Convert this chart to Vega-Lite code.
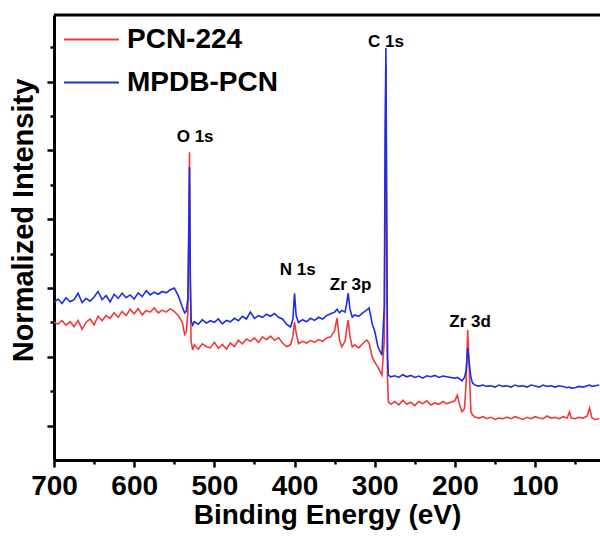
{
  "$schema": "https://vega.github.io/schema/vega-lite/v6.json",
  "width": 546,
  "height": 445,
  "autosize": {"type": "none"},
  "padding": {"left": 54, "top": 15, "right": 0, "bottom": 78},
  "background": "white",
  "config": {
    "view": {"stroke": null},
    "font": "Liberation Sans",
    "axis": {"grid": false, "domainColor": "black", "domainWidth": 3, "tickColor": "black", "tickWidth": 2.5, "labelColor": "black", "titleColor": "black", "labelFont": "Liberation Sans", "titleFont": "Liberation Sans"}
  },
  "datasets": {
    "spec": [
      {"e":700,"PCN-224":4.01,"MPDB-PCN":4.59},{"e":695,"PCN-224":3.95,"MPDB-PCN":4.68},{"e":690,"PCN-224":4.05,"MPDB-PCN":4.55},{"e":685,"PCN-224":3.92,"MPDB-PCN":4.72},{"e":680,"PCN-224":4.02,"MPDB-PCN":4.60},{"e":675,"PCN-224":3.88,"MPDB-PCN":4.66},{"e":670,"PCN-224":4.06,"MPDB-PCN":4.85},{"e":665,"PCN-224":3.80,"MPDB-PCN":4.58},{"e":660,"PCN-224":4.00,"MPDB-PCN":4.70},{"e":655,"PCN-224":4.10,"MPDB-PCN":4.62},{"e":650,"PCN-224":3.93,"MPDB-PCN":4.74},{"e":645,"PCN-224":4.18,"MPDB-PCN":4.90},{"e":640,"PCN-224":4.05,"MPDB-PCN":4.66},{"e":635,"PCN-224":4.20,"MPDB-PCN":4.78},{"e":630,"PCN-224":4.12,"MPDB-PCN":4.60},{"e":625,"PCN-224":4.28,"MPDB-PCN":4.82},{"e":620,"PCN-224":4.15,"MPDB-PCN":4.70},{"e":615,"PCN-224":4.32,"MPDB-PCN":4.85},{"e":610,"PCN-224":4.20,"MPDB-PCN":4.72},{"e":605,"PCN-224":4.38,"MPDB-PCN":4.80},{"e":600,"PCN-224":4.25,"MPDB-PCN":4.68},{"e":595,"PCN-224":4.40,"MPDB-PCN":4.86},{"e":590,"PCN-224":4.22,"MPDB-PCN":4.75},{"e":585,"PCN-224":4.35,"MPDB-PCN":4.92},{"e":580,"PCN-224":4.30,"MPDB-PCN":4.80},{"e":575,"PCN-224":4.42,"MPDB-PCN":4.88},{"e":570,"PCN-224":4.28,"MPDB-PCN":4.82},{"e":565,"PCN-224":4.36,"MPDB-PCN":4.90},{"e":560,"PCN-224":4.30,"MPDB-PCN":4.86},{"e":555,"PCN-224":4.40,"MPDB-PCN":4.95},{"e":550,"PCN-224":4.32,"MPDB-PCN":5.00},{"e":545,"PCN-224":4.20,"MPDB-PCN":4.78},{"e":540,"PCN-224":4.00,"MPDB-PCN":4.45},{"e":537,"PCN-224":3.65,"MPDB-PCN":4.28},{"e":535,"PCN-224":3.72,"MPDB-PCN":4.32},{"e":533,"PCN-224":4.30,"MPDB-PCN":4.70},{"e":532,"PCN-224":6.6,"MPDB-PCN":6.4},{"e":531,"PCN-224":8.95,"MPDB-PCN":8.52},{"e":530,"PCN-224":5.2,"MPDB-PCN":5.3},{"e":529,"PCN-224":3.45,"MPDB-PCN":4.05},{"e":527,"PCN-224":3.20,"MPDB-PCN":3.92},{"e":525,"PCN-224":3.35,"MPDB-PCN":4.02},{"e":520,"PCN-224":3.22,"MPDB-PCN":3.95},{"e":515,"PCN-224":3.38,"MPDB-PCN":4.08},{"e":510,"PCN-224":3.30,"MPDB-PCN":3.98},{"e":505,"PCN-224":3.26,"MPDB-PCN":4.05},{"e":500,"PCN-224":3.42,"MPDB-PCN":4.00},{"e":495,"PCN-224":3.25,"MPDB-PCN":4.10},{"e":490,"PCN-224":3.36,"MPDB-PCN":3.96},{"e":485,"PCN-224":3.22,"MPDB-PCN":4.06},{"e":480,"PCN-224":3.40,"MPDB-PCN":4.02},{"e":475,"PCN-224":3.30,"MPDB-PCN":4.12},{"e":470,"PCN-224":3.48,"MPDB-PCN":4.05},{"e":465,"PCN-224":3.38,"MPDB-PCN":4.18},{"e":460,"PCN-224":3.52,"MPDB-PCN":4.10},{"e":455,"PCN-224":3.45,"MPDB-PCN":4.30},{"e":450,"PCN-224":3.55,"MPDB-PCN":4.12},{"e":445,"PCN-224":3.42,"MPDB-PCN":4.20},{"e":440,"PCN-224":3.58,"MPDB-PCN":4.15},{"e":435,"PCN-224":3.50,"MPDB-PCN":4.24},{"e":430,"PCN-224":3.60,"MPDB-PCN":4.18},{"e":425,"PCN-224":3.48,"MPDB-PCN":4.26},{"e":420,"PCN-224":3.56,"MPDB-PCN":4.15},{"e":415,"PCN-224":3.40,"MPDB-PCN":4.10},{"e":410,"PCN-224":3.30,"MPDB-PCN":3.95},{"e":405,"PCN-224":3.35,"MPDB-PCN":3.87},{"e":402,"PCN-224":3.60,"MPDB-PCN":4.10},{"e":400,"PCN-224":4.01,"MPDB-PCN":4.85},{"e":398,"PCN-224":3.70,"MPDB-PCN":4.20},{"e":395,"PCN-224":3.38,"MPDB-PCN":4.00},{"e":390,"PCN-224":3.45,"MPDB-PCN":4.08},{"e":385,"PCN-224":3.40,"MPDB-PCN":4.02},{"e":380,"PCN-224":3.48,"MPDB-PCN":4.12},{"e":375,"PCN-224":3.42,"MPDB-PCN":4.06},{"e":370,"PCN-224":3.50,"MPDB-PCN":4.15},{"e":365,"PCN-224":3.45,"MPDB-PCN":4.10},{"e":360,"PCN-224":3.55,"MPDB-PCN":4.20},{"e":355,"PCN-224":3.58,"MPDB-PCN":4.25},{"e":350,"PCN-224":3.75,"MPDB-PCN":4.30},{"e":347,"PCN-224":4.13,"MPDB-PCN":4.38},{"e":344,"PCN-224":3.50,"MPDB-PCN":4.28},{"e":341,"PCN-224":3.29,"MPDB-PCN":4.35},{"e":337,"PCN-224":3.45,"MPDB-PCN":4.30},{"e":335,"PCN-224":3.80,"MPDB-PCN":4.55},{"e":333,"PCN-224":4.07,"MPDB-PCN":4.85},{"e":331,"PCN-224":3.60,"MPDB-PCN":4.40},{"e":328,"PCN-224":3.29,"MPDB-PCN":4.15},{"e":325,"PCN-224":3.35,"MPDB-PCN":4.22},{"e":320,"PCN-224":3.26,"MPDB-PCN":4.18},{"e":315,"PCN-224":3.38,"MPDB-PCN":4.28},{"e":310,"PCN-224":3.49,"MPDB-PCN":4.36},{"e":307,"PCN-224":3.40,"MPDB-PCN":4.42},{"e":303,"PCN-224":2.99,"MPDB-PCN":3.95},{"e":300,"PCN-224":2.85,"MPDB-PCN":3.75},{"e":296,"PCN-224":2.70,"MPDB-PCN":3.29},{"e":291,"PCN-224":2.47,"MPDB-PCN":3.05},{"e":288,"PCN-224":3.5,"MPDB-PCN":4.5},{"e":287,"PCN-224":8.0,"MPDB-PCN":9.5},{"e":286,"PCN-224":11.5,"MPDB-PCN":11.98},{"e":285,"PCN-224":6.0,"MPDB-PCN":7.0},{"e":284,"PCN-224":2.4,"MPDB-PCN":3.0},{"e":283,"PCN-224":1.69,"MPDB-PCN":2.47},{"e":280,"PCN-224":1.62,"MPDB-PCN":2.42},{"e":275,"PCN-224":1.70,"MPDB-PCN":2.45},{"e":270,"PCN-224":1.60,"MPDB-PCN":2.40},{"e":265,"PCN-224":1.74,"MPDB-PCN":2.48},{"e":260,"PCN-224":1.62,"MPDB-PCN":2.42},{"e":255,"PCN-224":1.68,"MPDB-PCN":2.46},{"e":250,"PCN-224":1.58,"MPDB-PCN":2.40},{"e":245,"PCN-224":1.70,"MPDB-PCN":2.44},{"e":240,"PCN-224":1.64,"MPDB-PCN":2.38},{"e":235,"PCN-224":1.72,"MPDB-PCN":2.45},{"e":230,"PCN-224":1.60,"MPDB-PCN":2.42},{"e":225,"PCN-224":1.66,"MPDB-PCN":2.46},{"e":220,"PCN-224":1.62,"MPDB-PCN":2.40},{"e":215,"PCN-224":1.70,"MPDB-PCN":2.44},{"e":210,"PCN-224":1.64,"MPDB-PCN":2.42},{"e":205,"PCN-224":1.68,"MPDB-PCN":2.40},{"e":200,"PCN-224":1.72,"MPDB-PCN":2.38},{"e":197,"PCN-224":1.89,"MPDB-PCN":2.40},{"e":194,"PCN-224":1.60,"MPDB-PCN":2.36},{"e":191,"PCN-224":1.40,"MPDB-PCN":2.30},{"e":188,"PCN-224":1.50,"MPDB-PCN":2.40},{"e":186,"PCN-224":2.2,"MPDB-PCN":2.6},{"e":184,"PCN-224":3.78,"MPDB-PCN":3.26},{"e":182,"PCN-224":2.6,"MPDB-PCN":2.8},{"e":180,"PCN-224":1.40,"MPDB-PCN":2.40},{"e":178,"PCN-224":1.31,"MPDB-PCN":2.24},{"e":175,"PCN-224":1.25,"MPDB-PCN":2.18},{"e":170,"PCN-224":1.22,"MPDB-PCN":2.15},{"e":165,"PCN-224":1.26,"MPDB-PCN":2.18},{"e":160,"PCN-224":1.20,"MPDB-PCN":2.14},{"e":155,"PCN-224":1.24,"MPDB-PCN":2.16},{"e":150,"PCN-224":1.18,"MPDB-PCN":2.12},{"e":145,"PCN-224":1.22,"MPDB-PCN":2.18},{"e":140,"PCN-224":1.20,"MPDB-PCN":2.14},{"e":135,"PCN-224":1.25,"MPDB-PCN":2.16},{"e":130,"PCN-224":1.20,"MPDB-PCN":2.12},{"e":125,"PCN-224":1.26,"MPDB-PCN":2.18},{"e":120,"PCN-224":1.22,"MPDB-PCN":2.14},{"e":115,"PCN-224":1.18,"MPDB-PCN":2.16},{"e":110,"PCN-224":1.24,"MPDB-PCN":2.12},{"e":105,"PCN-224":1.20,"MPDB-PCN":2.18},{"e":100,"PCN-224":1.26,"MPDB-PCN":2.15},{"e":95,"PCN-224":1.22,"MPDB-PCN":2.12},{"e":90,"PCN-224":1.20,"MPDB-PCN":2.18},{"e":85,"PCN-224":1.28,"MPDB-PCN":2.14},{"e":80,"PCN-224":1.22,"MPDB-PCN":2.16},{"e":75,"PCN-224":1.24,"MPDB-PCN":2.12},{"e":70,"PCN-224":1.20,"MPDB-PCN":2.16},{"e":65,"PCN-224":1.26,"MPDB-PCN":2.14},{"e":60,"PCN-224":1.22,"MPDB-PCN":2.10},{"e":57,"PCN-224":1.40,"MPDB-PCN":2.12},{"e":55,"PCN-224":1.22,"MPDB-PCN":2.09},{"e":50,"PCN-224":1.20,"MPDB-PCN":2.10},{"e":45,"PCN-224":1.24,"MPDB-PCN":2.14},{"e":40,"PCN-224":1.22,"MPDB-PCN":2.12},{"e":35,"PCN-224":1.28,"MPDB-PCN":2.16},{"e":32,"PCN-224":1.51,"MPDB-PCN":2.18},{"e":29,"PCN-224":1.22,"MPDB-PCN":2.14},{"e":25,"PCN-224":1.18,"MPDB-PCN":2.16},{"e":20,"PCN-224":1.20,"MPDB-PCN":2.18}
    ],
    "ann": [
      {"label":"O 1s","e":524,"i":9.39},
      {"label":"C 1s","e":286,"i":12.15},
      {"label":"N 1s","e":396,"i":5.52},
      {"label":"Zr 3p","e":330,"i":5.09},
      {"label":"Zr 3d","e":181,"i":4.01}
    ],
    "frame": [{"i": 12.94}]
  },
  "layer": [
    {
      "data": {"name": "spec"},
      "transform": [{"fold": ["PCN-224", "MPDB-PCN"], "as": ["series", "i"]}],
      "mark": {"type": "line", "strokeWidth": 1.6, "clip": true},
      "encoding": {
        "x": {
          "field": "e", "type": "quantitative",
          "scale": {"domain": [19, 700], "reverse": true, "nice": false, "zero": false},
          "axis": {
            "values": [700, 650, 600, 550, 500, 450, 400, 350, 300, 250, 200, 150, 100, 50],
            "tickSize": {"condition": {"test": "datum.value % 100 === 0", "value": 7}, "value": 4},
            "labelExpr": "datum.value % 100 === 0 ? datum.label : ''",
            "labelFlush": false, "labelOverlap": false,
            "labelFontSize": 28, "labelFontWeight": "bold", "labelPadding": 5,
            "title": "Binding Energy (eV)", "titleFontSize": 28, "titleFontWeight": "bold", "titlePadding": 1
          }
        },
        "y": {
          "field": "i", "type": "quantitative",
          "scale": {"domain": [0, 12.94], "nice": false, "zero": false},
          "axis": {
            "values": [1, 2, 3, 4, 5, 6, 7, 8, 9, 10, 11, 12],
            "tickSize": {"condition": {"test": "datum.value % 2 === 1", "value": 7}, "value": 4},
            "labels": false,
            "title": "Normalized Intensity", "titleFontSize": 29, "titleFontWeight": "bold", "titlePadding": 7, "titleY": 205
          }
        },
        "color": {
          "field": "series", "type": "nominal",
          "scale": {"domain": ["PCN-224", "MPDB-PCN"], "range": ["#f03a3a", "#1c2de6"]},
          "legend": {
            "orient": "none", "legendX": 9, "legendY": -4, "title": null,
            "symbolType": "stroke", "symbolSize": 3025, "symbolStrokeWidth": 2,
            "labelFontSize": 28, "labelFontWeight": "bold", "labelColor": "black", "labelFont": "Liberation Sans",
            "labelOffset": 7, "rowPadding": 0, "padding": 0
          }
        }
      }
    },
    {
      "data": {"name": "ann"},
      "mark": {"type": "text", "fontWeight": "bold", "fontSize": 17, "font": "Liberation Sans", "color": "black"},
      "encoding": {
        "x": {"field": "e", "type": "quantitative"},
        "y": {"field": "i", "type": "quantitative"},
        "text": {"field": "label"}
      }
    },
    {
      "data": {"name": "frame"},
      "mark": {"type": "rule", "strokeWidth": 3, "color": "black"},
      "encoding": {"y": {"field": "i", "type": "quantitative"}}
    }
  ]
}
